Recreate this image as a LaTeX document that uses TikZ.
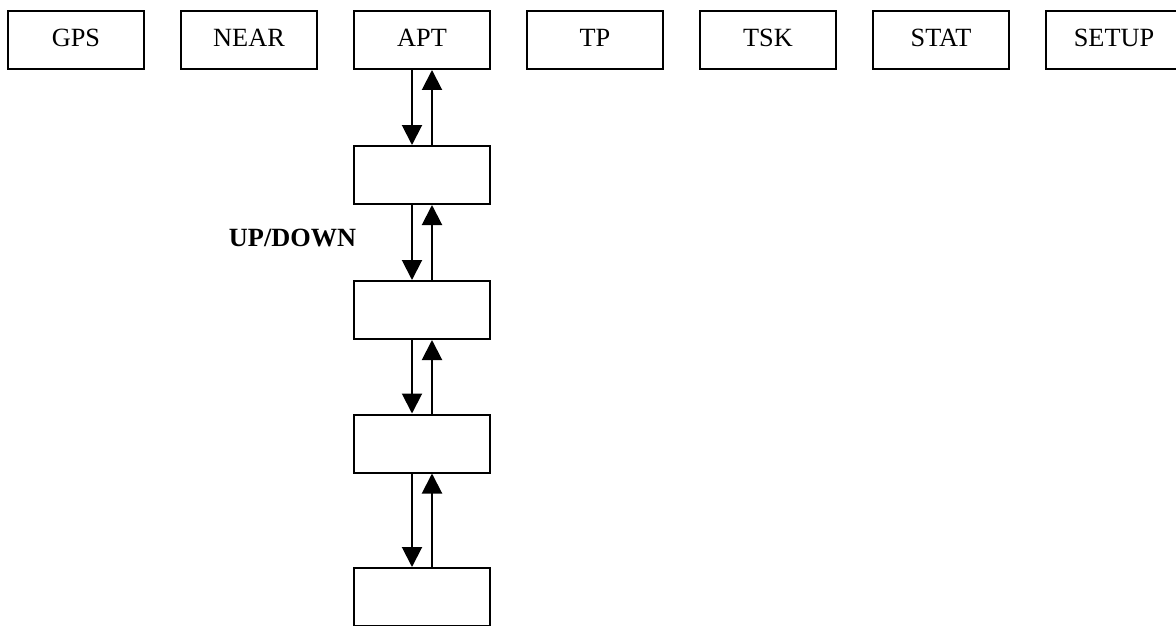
\documentclass[tikz,border=0pt]{standalone}
\usepackage{fontspec}
\setmainfont{Liberation Serif}
\usetikzlibrary{arrows.meta}
\begin{document}
\begin{tikzpicture}[x=1pt,y=-1pt,
  menubox/.style={draw, line width=2pt, minimum width=136pt, minimum height=58pt,
    inner sep=0pt, font=\fontsize{26.3}{30}\selectfont,
    text height=17.2pt, text depth=4.6pt},
  flow/.style={line width=2pt, -{Triangle[length=20pt,width=20pt]}},
  hint/.style={font=\fontsize{26.3}{30}\selectfont\bfseries, inner sep=0pt}]
\useasboundingbox (0,0) rectangle (1176,626);

% top-level menu row
\node[menubox] (gps)   at (76,40)   {GPS};
\node[menubox] (near)  at (249,40)  {NEAR};
\node[menubox] (apt)   at (422,40)  {APT};
\node[menubox] (tp)    at (595,40)  {TP};
\node[menubox] (tsk)   at (768,40)  {TSK};
\node[menubox] (stat)  at (941,40)  {STAT};
\node[menubox] (setup) at (1114,40) {SETUP};

% pages below APT
\node[menubox] (p1) at (422,175)   {};
\node[menubox] (p2) at (422,310)   {};
\node[menubox] (p3) at (422,443.5) {};
\node[menubox] (p4) at (422,597)   {};

\node[hint] (updown) at (292.5,238) {UP/DOWN};

% down / up links between consecutive pages
\foreach \a/\b in {apt/p1, p1/p2, p2/p3, p3/p4}{
  \draw[flow] ([xshift=-10pt]\a.south) -- ([xshift=-10pt]\b.north);
  \draw[flow] ([xshift=10pt]\b.north) -- ([xshift=10pt]\a.south);
}
\end{tikzpicture}
\end{document}
